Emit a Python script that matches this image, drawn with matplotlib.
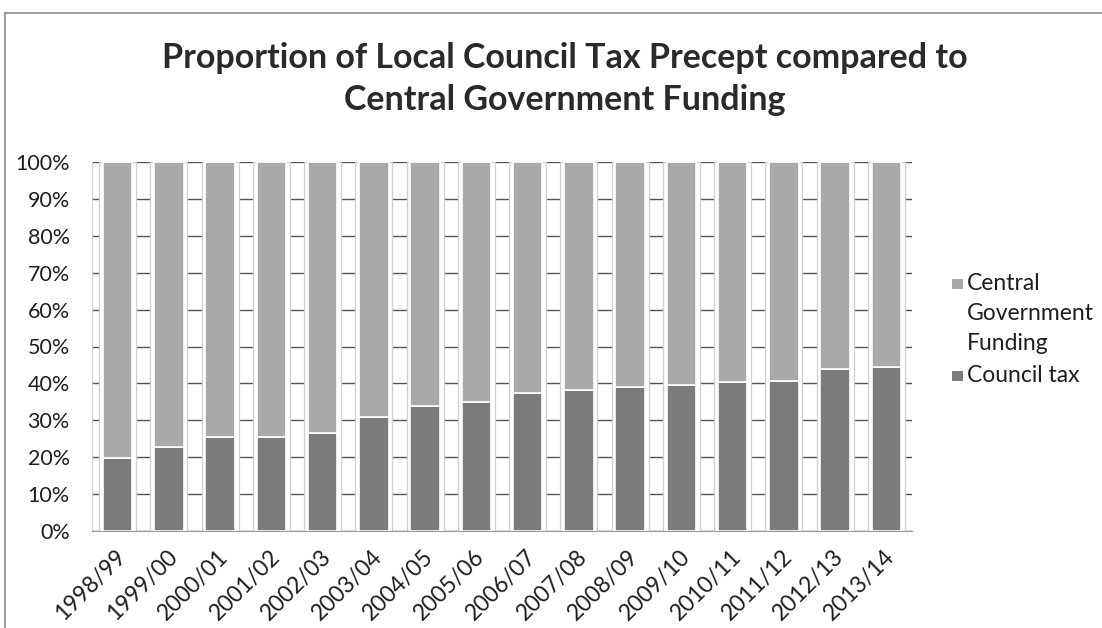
import matplotlib
matplotlib.use("Agg")
import matplotlib.pyplot as plt
from matplotlib.patches import Rectangle
from matplotlib.lines import Line2D
import matplotlib.transforms as mtransforms
import numpy as np

plt.rcParams['font.family'] = ['Lato', 'DejaVu Sans']

years = ["1998/99", "1999/00", "2000/01", "2001/02", "2002/03", "2003/04", "2004/05",
         "2005/06", "2006/07", "2007/08", "2008/09", "2009/10", "2010/11", "2011/12",
         "2012/13", "2013/14"]
council_tax = [19.7, 22.8, 25.4, 25.4, 26.6, 31.0, 33.8, 35.0, 37.5, 38.2, 39.1, 39.7,
               40.3, 40.7, 43.9, 44.5]
central_gov = [100 - v for v in council_tax]
yticks = [0, 10, 20, 30, 40, 50, 60, 70, 80, 90, 100]
ytick_labels = [f"{v}%" for v in yticks]
legend_labels = ["Central\nGovernment\nFunding", "Council tax"]

c_dark = "#7b7b7b"
c_light = "#a9a9a9"
txt = "#1e1e1e"

W, H = 1102, 628
fig = plt.figure(figsize=(W/100, H/100), dpi=100)
ax = fig.add_axes([92/W, 1 - 531/H, 820/W, (531-162)/H])

x = np.arange(len(years))
tot = [a + b for a, b in zip(council_tax, central_gov)]
# halo behind bars
ax.bar(x, tot, width=0.72, color="white", edgecolor="#cfcfcf", linewidth=0.9, zorder=1)
ax.bar(x, council_tax, width=0.575, color=c_dark, edgecolor="white", linewidth=1.2,
       zorder=2, label=legend_labels[1])
ax.bar(x, central_gov, bottom=council_tax, width=0.575, color=c_light, edgecolor="white",
       linewidth=1.2, zorder=2, label=legend_labels[0])

ax.set_xlim(-0.5, len(years) - 0.5)
ax.set_ylim(0, 100)
ax.set_yticks(yticks)
ax.set_yticklabels(ytick_labels, fontsize=15.5, color=txt)
ax.set_xticks(x)
ax.set_xticklabels(years, rotation=45, ha="right", va="center", rotation_mode="anchor",
                   fontsize=16.5, color=txt)
ax.tick_params(axis="both", length=0)
ax.tick_params(axis="y", pad=16)
ax.tick_params(axis="x", pad=0)
# place the right end of each rotated label a little below/right of its tick
offset = mtransforms.ScaledTranslation(5/100, -22/100, fig.dpi_scale_trans)
for lab in ax.get_xticklabels():
    lab.set_transform(lab.get_transform() + offset)
ax.yaxis.grid(True, color="#555555", linewidth=1.0, zorder=0)
ax.set_axisbelow(True)
for s in ["top", "right"]:
    ax.spines[s].set_visible(False)
ax.spines["left"].set_color("#d0d0d0")
ax.spines["bottom"].set_color("#9a9a9a")

# legend drawn manually (square aligned with first line of wrapped label)
def fpt(px, py):
    return px / W, 1 - py / H

sq = 10.5
for (lab, col, y0) in [(legend_labels[0], c_light, 284), (legend_labels[1], c_dark, 376)]:
    fx, fy = fpt(952, y0 + sq/2)
    fig.add_artist(Rectangle((fx, fy), sq/W, sq/H, transform=fig.transFigure,
                             facecolor=col, edgecolor="none"))
    for k, line in enumerate(lab.split("\n")):
        tx, ty = fpt(967, y0 + k * 30)
        fig.text(tx, ty, line, ha="left", va="center", fontsize=16.5, color=txt)

fig.text(565/W, 1 - 58/H, "Proportion of Local Council Tax Precept compared to",
         ha="center", va="center", fontsize=24.5, fontweight="bold", color="#2a2a2a")
fig.text(565/W, 1 - 100/H, "Central Government Funding",
         ha="center", va="center", fontsize=24.5, fontweight="bold", color="#2a2a2a")

# outer chart frame
fig.add_artist(Line2D([5/W, 5/W], [0, 1 - 13/H], transform=fig.transFigure,
                      color="#8a8a8a", linewidth=1.2))
fig.add_artist(Line2D([5/W, 1], [1 - 13/H, 1 - 13/H], transform=fig.transFigure,
                      color="#8a8a8a", linewidth=1.2))

fig.savefig("out.png", dpi=100)
